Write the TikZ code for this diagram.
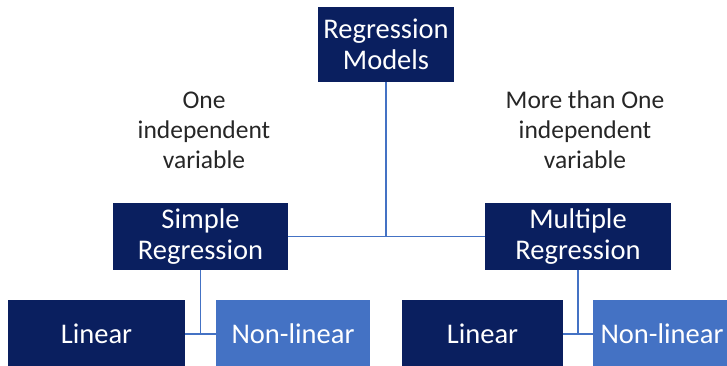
\documentclass[tikz,border=0pt]{standalone}
\usepackage{fontspec}
\setmainfont{Carlito}
\usepackage{tikz}
\usetikzlibrary{positioning}

\definecolor{navy}{HTML}{0A1F5F}
\definecolor{lightblue}{HTML}{4472C4}
\definecolor{textgray}{HTML}{262626}

\begin{document}
\begin{tikzpicture}[x=1pt, y=-1pt,
  darkbox/.style={rectangle, fill=navy, text=white, align=center, inner sep=0pt, font=\fontsize{28.5}{31.5}\selectfont},
  lightbox/.style={darkbox, fill=lightblue},
  note/.style={align=center, text=textgray, font=\fontsize{25.5}{30}\selectfont},
  link/.style={draw=lightblue, line width=1.3pt}
]
\useasboundingbox (0,0) rectangle (727,366);

\node[darkbox, minimum width=136pt, minimum height=75pt] (top) at (386,44.5) {Regression\\Models};
\node[darkbox, minimum width=175pt, minimum height=67pt] (simple) at (200.5,236.5) {Simple\\Regression};
\node[darkbox, minimum width=186pt, minimum height=67pt] (multiple) at (578,236.5) {Multiple\\Regression};

\node[darkbox, minimum width=177pt, minimum height=68pt] (lin1) at (96.5,334) {Linear};
\node[lightbox, minimum width=154pt, minimum height=68pt] (nonlin1) at (293,334) {Non-linear};
\node[darkbox, minimum width=161pt, minimum height=68pt] (lin2) at (482.5,334) {Linear};
\node[lightbox, minimum width=138pt, minimum height=68pt] (nonlin2) at (662,334) {Non-linear};

\node[note] (onevar) at (204,130) {One\\independent\\variable};
\node[note] (morevar) at (585,130) {More than One\\independent\\variable};

\draw[link] (top.south) -- (top.south |- simple.east);
\draw[link] (simple.east) -- (multiple.west);
\draw[link] (simple.south) -- (simple.south |- lin1.east);
\draw[link] (lin1.east) -- (nonlin1.west);
\draw[link] (multiple.south) -- (multiple.south |- lin2.east);
\draw[link] (lin2.east) -- (nonlin2.west);
\end{tikzpicture}
\end{document}
